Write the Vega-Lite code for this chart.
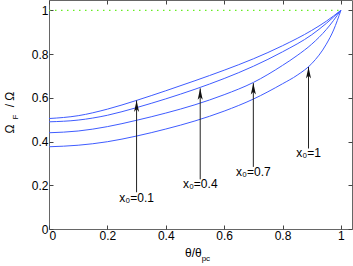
{
  "$schema": "https://vega.github.io/schema/vega-lite/v6.json",
  "autosize": {"type": "none"},
  "padding": {"left": 49, "top": 0, "right": 1, "bottom": 37},
  "width": 303,
  "height": 229,
  "config": {
    "view": {"stroke": "#666666", "strokeWidth": 1},
    "font": "Liberation Sans",
    "axis": {
      "grid": false,
      "domain": false,
      "tickColor": "#444444",
      "tickSize": -4,
      "labelFont": "Liberation Sans",
      "labelFontSize": 12,
      "labelColor": "#000000",
      "title": null
    }
  },
  "datasets": {
    "curves": [
      {"curve": "A", "t": 0, "v": 0.505}, {"curve": "A", "t": 0.1, "v": 0.518}, {"curve": "A", "t": 0.2, "v": 0.548},
      {"curve": "A", "t": 0.3, "v": 0.588}, {"curve": "A", "t": 0.4, "v": 0.632}, {"curve": "A", "t": 0.5, "v": 0.678},
      {"curve": "A", "t": 0.6, "v": 0.726}, {"curve": "A", "t": 0.7, "v": 0.778}, {"curve": "A", "t": 0.8, "v": 0.838},
      {"curve": "A", "t": 0.9, "v": 0.908}, {"curve": "A", "t": 0.95, "v": 0.95}, {"curve": "A", "t": 1, "v": 1},
      {"curve": "B", "t": 0, "v": 0.49}, {"curve": "B", "t": 0.1, "v": 0.498}, {"curve": "B", "t": 0.2, "v": 0.52},
      {"curve": "B", "t": 0.3, "v": 0.555}, {"curve": "B", "t": 0.4, "v": 0.595}, {"curve": "B", "t": 0.5, "v": 0.639},
      {"curve": "B", "t": 0.6, "v": 0.688}, {"curve": "B", "t": 0.7, "v": 0.744}, {"curve": "B", "t": 0.8, "v": 0.81},
      {"curve": "B", "t": 0.9, "v": 0.888}, {"curve": "B", "t": 0.95, "v": 0.94}, {"curve": "B", "t": 1, "v": 1},
      {"curve": "C", "t": 0, "v": 0.44}, {"curve": "C", "t": 0.1, "v": 0.448}, {"curve": "C", "t": 0.2, "v": 0.468},
      {"curve": "C", "t": 0.3, "v": 0.497}, {"curve": "C", "t": 0.4, "v": 0.53}, {"curve": "C", "t": 0.5, "v": 0.568},
      {"curve": "C", "t": 0.6, "v": 0.614}, {"curve": "C", "t": 0.7, "v": 0.67}, {"curve": "C", "t": 0.8, "v": 0.748},
      {"curve": "C", "t": 0.85, "v": 0.793}, {"curve": "C", "t": 0.9, "v": 0.845}, {"curve": "C", "t": 0.95, "v": 0.912},
      {"curve": "C", "t": 1, "v": 1},
      {"curve": "D", "t": 0, "v": 0.376}, {"curve": "D", "t": 0.1, "v": 0.383}, {"curve": "D", "t": 0.2, "v": 0.399},
      {"curve": "D", "t": 0.3, "v": 0.425}, {"curve": "D", "t": 0.4, "v": 0.457}, {"curve": "D", "t": 0.5, "v": 0.494},
      {"curve": "D", "t": 0.6, "v": 0.539}, {"curve": "D", "t": 0.7, "v": 0.594}, {"curve": "D", "t": 0.8, "v": 0.664},
      {"curve": "D", "t": 0.85, "v": 0.703}, {"curve": "D", "t": 0.9, "v": 0.756}, {"curve": "D", "t": 0.95, "v": 0.845},
      {"curve": "D", "t": 0.975, "v": 0.91}, {"curve": "D", "t": 1, "v": 1}
    ],
    "ref": [{"t": 0, "v": 1}, {"t": 1, "v": 1}],
    "arrows": [
      {"label": "x₀=0.1", "x": 0.3, "y0": 0.168, "y1": 0.588, "ty": 0.125},
      {"label": "x₀=0.4", "x": 0.518, "y0": 0.227, "y1": 0.643, "ty": 0.186},
      {"label": "x₀=0.7", "x": 0.7, "y0": 0.284, "y1": 0.667, "ty": 0.242},
      {"label": "x₀=1", "x": 0.889, "y0": 0.368, "y1": 0.741, "ty": 0.327}
    ],
    "titles": [
      {"text": "Ω", "x": -0.1199, "y": 0.457, "kind": "yt"},
      {"text": "/ Ω", "x": -0.1199, "y": 0.592, "kind": "yt"},
      {"text": "θ/θ", "x": 0.523, "y": -0.1267, "kind": "xt"}
    ],
    "subs": [
      {"text": "F", "x": -0.1045, "y": 0.512, "kind": "ys"},
      {"text": "pc", "x": 0.523, "y": -0.146, "kind": "xs"}
    ]
  },
  "resolve": {"axis": {"x": "independent", "y": "independent"}},
  "layer": [
    {
      "data": {"name": "ref"},
      "mark": {"type": "line", "color": "#66ee22", "strokeWidth": 1.3, "strokeDash": [1.5, 4.5]},
      "encoding": {
        "x": {"field": "t", "type": "quantitative", "scale": {"domain": [0, 1.038], "nice": false, "zero": false},
              "axis": {"orient": "top", "values": [0, 0.2, 0.4, 0.6, 0.8, 1], "labels": false}},
        "y": {"field": "v", "type": "quantitative", "scale": {"domain": [0, 1.047], "nice": false, "zero": false},
              "axis": {"orient": "right", "values": [0, 0.2, 0.4, 0.6, 0.8, 1], "labels": false}}
      }
    },
    {
      "data": {"name": "curves"},
      "mark": {"type": "line", "color": "#3f5cff", "strokeWidth": 1, "interpolate": "monotone"},
      "encoding": {
        "x": {"field": "t", "type": "quantitative", "scale": {"domain": [0, 1.038], "nice": false, "zero": false},
              "axis": {"orient": "bottom", "values": [0, 0.2, 0.4, 0.6, 0.8, 1], "format": "~g", "labelPadding": 5}},
        "y": {"field": "v", "type": "quantitative", "scale": {"domain": [0, 1.047], "nice": false, "zero": false},
              "axis": {"orient": "left", "values": [0, 0.2, 0.4, 0.6, 0.8, 1], "format": "~g", "labelPadding": 5}},
        "detail": {"field": "curve"}
      }
    },
    {
      "data": {"name": "arrows"},
      "mark": {"type": "rule", "color": "#222222", "strokeWidth": 1},
      "encoding": {
        "x": {"field": "x", "type": "quantitative", "scale": {"domain": [0, 1.038], "nice": false, "zero": false}, "axis": null},
        "y": {"field": "y0", "type": "quantitative", "scale": {"domain": [0, 1.047], "nice": false, "zero": false}, "axis": null},
        "y2": {"field": "y1"}
      }
    },
    {
      "data": {"name": "arrows"},
      "mark": {"type": "point", "shape": "M0,0 L-0.22,1 L0,0.75 L0.22,1 Z", "size": 529, "filled": true, "color": "#111111", "opacity": 1},
      "encoding": {
        "x": {"field": "x", "type": "quantitative", "scale": {"domain": [0, 1.038], "nice": false, "zero": false}, "axis": null},
        "y": {"field": "y1", "type": "quantitative", "scale": {"domain": [0, 1.047], "nice": false, "zero": false}, "axis": null}
      }
    },
    {
      "data": {"name": "arrows"},
      "mark": {"type": "text", "fontSize": 12, "align": "center", "baseline": "alphabetic", "color": "#000000"},
      "encoding": {
        "x": {"field": "x", "type": "quantitative", "scale": {"domain": [0, 1.038], "nice": false, "zero": false}, "axis": null},
        "y": {"field": "ty", "type": "quantitative", "scale": {"domain": [0, 1.047], "nice": false, "zero": false}, "axis": null},
        "text": {"field": "label"}
      }
    },
    {
      "data": {"name": "titles"},
      "transform": [{"filter": "datum.kind == 'yt'"}],
      "mark": {"type": "text", "fontSize": 12, "align": "center", "baseline": "alphabetic", "angle": 270, "color": "#000000"},
      "encoding": {
        "x": {"field": "x", "type": "quantitative", "scale": {"domain": [0, 1.038], "nice": false, "zero": false}, "axis": null},
        "y": {"field": "y", "type": "quantitative", "scale": {"domain": [0, 1.047], "nice": false, "zero": false}, "axis": null},
        "text": {"field": "text"}
      }
    },
    {
      "data": {"name": "subs"},
      "transform": [{"filter": "datum.kind == 'ys'"}],
      "mark": {"type": "text", "fontSize": 8, "align": "center", "baseline": "alphabetic", "angle": 270, "color": "#000000"},
      "encoding": {
        "x": {"field": "x", "type": "quantitative", "scale": {"domain": [0, 1.038], "nice": false, "zero": false}, "axis": null},
        "y": {"field": "y", "type": "quantitative", "scale": {"domain": [0, 1.047], "nice": false, "zero": false}, "axis": null},
        "text": {"field": "text"}
      }
    },
    {
      "data": {"name": "titles"},
      "transform": [{"filter": "datum.kind == 'xt'"}],
      "mark": {"type": "text", "fontSize": 12, "align": "right", "baseline": "alphabetic", "color": "#000000"},
      "encoding": {
        "x": {"field": "x", "type": "quantitative", "scale": {"domain": [0, 1.038], "nice": false, "zero": false}, "axis": null},
        "y": {"field": "y", "type": "quantitative", "scale": {"domain": [0, 1.047], "nice": false, "zero": false}, "axis": null},
        "text": {"field": "text"}
      }
    },
    {
      "data": {"name": "subs"},
      "transform": [{"filter": "datum.kind == 'xs'"}],
      "mark": {"type": "text", "fontSize": 8, "align": "left", "baseline": "alphabetic", "color": "#000000"},
      "encoding": {
        "x": {"field": "x", "type": "quantitative", "scale": {"domain": [0, 1.038], "nice": false, "zero": false}, "axis": null},
        "y": {"field": "y", "type": "quantitative", "scale": {"domain": [0, 1.047], "nice": false, "zero": false}, "axis": null},
        "text": {"field": "text"}
      }
    }
  ]
}
